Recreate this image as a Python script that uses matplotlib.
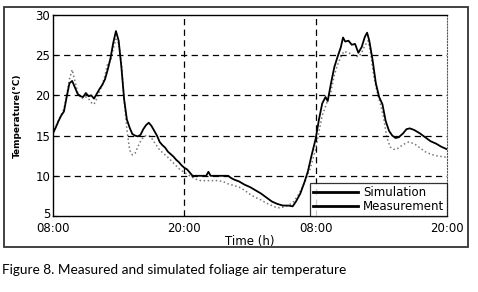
import matplotlib
matplotlib.use("Agg")
import matplotlib.pyplot as plt
import matplotlib.transforms as mtransforms
from matplotlib.lines import Line2D
from matplotlib.patches import Rectangle

# hours after 08:00 on day 1
t_meas = [0, 0.25, 0.5, 0.75, 1.0, 1.25, 1.5, 1.75, 2.0, 2.25, 2.5, 2.75, 3.0, 3.25, 3.5, 3.75,
          4.0, 4.25, 4.5, 4.75, 5.0, 5.25, 5.5, 5.75, 6.0, 6.25, 6.5, 6.75, 7.0, 7.25, 7.5, 7.75,
          8.0, 8.25, 8.5, 8.75, 9.0, 9.25, 9.5, 9.75, 10.0, 10.25, 10.5, 10.75, 11.0, 11.25, 11.5,
          11.75, 12.0, 12.25, 12.5, 12.75, 13, 14, 14.2, 14.4, 15, 16, 16.3, 16.6, 17.0, 17.5,
          18.0, 18.5, 19.0, 19.5, 20.0, 20.5, 21.0, 21.5, 21.9, 22.2, 22.6, 23.0, 23.3, 23.6,
          24.0, 24.3, 24.6, 24.9, 25.1, 25.4, 25.7, 26.0, 26.3, 26.5, 26.7, 27.0, 27.3, 27.6,
          27.9, 28.2, 28.5, 28.7, 28.9, 29.2, 29.5, 29.8, 30.1, 30.4, 30.7, 31.0, 31.3, 31.6,
          32.0, 32.3, 32.6, 33.0, 33.5, 34.0, 34.5, 35.0, 35.5, 36.0]
measured = [15.3, 16.0, 16.8, 17.5, 18.0, 19.8, 21.5, 21.8, 21.0, 20.2, 19.9, 19.8, 20.3, 19.9, 20.0, 19.6,
            20.2, 20.8, 21.3, 22.0, 23.2, 24.6, 26.5, 28.0, 26.8, 23.5, 19.5, 17.0, 16.0, 15.2, 15.0, 14.9,
            15.1, 15.8, 16.3, 16.6, 16.2, 15.6, 15.0, 14.2, 13.8, 13.5, 13.0, 12.7, 12.4, 12.0, 11.7,
            11.3, 11.0, 10.8, 10.4, 10.0, 10.0, 10.0, 10.5, 10.0, 10.0, 10.0, 9.7, 9.5, 9.3, 8.9,
            8.6, 8.2, 7.8, 7.3, 6.8, 6.5, 6.3, 6.3, 6.2, 6.8, 7.8, 9.3, 10.6, 12.4,
            14.6, 17.0, 19.0, 19.8, 19.3, 21.5, 23.5, 24.8, 26.0, 27.2, 26.7, 26.8, 26.3, 26.4,
            25.3, 26.0, 27.3, 27.8, 26.8, 24.4, 21.5, 19.8, 18.9, 16.8, 15.6, 15.0, 14.7, 14.8,
            15.3, 15.8, 15.9, 15.7, 15.3, 14.8, 14.3, 14.0, 13.6, 13.3]

t_sim = [0, 0.25, 0.5, 0.75, 1.0, 1.25, 1.5, 1.75, 2.0, 2.25, 2.5, 2.75, 3.0, 3.25, 3.5, 3.75,
         4.0, 4.25, 4.5, 4.75, 5.0, 5.25, 5.5, 5.75, 6.0, 6.25, 6.5, 6.75, 7.0, 7.25, 7.5, 7.75,
         8.0, 8.25, 8.5, 8.75, 9.0, 9.25, 9.5, 9.75, 10.0, 10.5, 11.0, 11.5, 12.0, 12.5, 13.0,
         13.5, 14, 15, 15.5, 16, 16.5, 17, 17.5, 18, 18.5, 19, 19.5, 20, 20.5, 21, 21.5, 22.0,
         22.5, 23.0, 23.5, 24.0, 24.3, 24.6, 25.0, 25.4, 25.7, 26.0, 26.3, 26.6, 26.9, 27.2,
         27.5, 27.9, 28.2, 28.5, 28.8, 29.0, 29.3, 29.6, 29.9, 30.2, 30.5, 30.8, 31.1, 31.4,
         31.7, 32.0, 32.5, 33.0, 33.5, 34.0, 34.5, 35.0, 35.5, 36.0]
simulated = [15.3, 16.1, 16.9, 17.6, 18.3, 20.0, 22.0, 23.2, 21.8, 20.4, 19.8, 19.6, 19.8, 19.6, 19.1, 18.9,
             19.6, 20.5, 21.3, 22.5, 24.0, 24.2, 25.8, 27.0, 26.5, 24.0, 19.5, 15.8, 13.2, 12.6, 12.8, 13.6,
             14.3, 14.8, 15.0, 15.0, 14.7, 14.2, 13.7, 13.2, 12.9, 12.3, 11.6, 10.9, 10.4, 10.0, 9.6,
             9.4, 9.4, 9.4, 9.3, 9.0, 8.8, 8.6, 8.2, 7.7, 7.3, 7.0, 6.6, 6.3, 6.0, 6.1, 6.3, 6.8,
             7.8, 9.2, 10.9, 13.3, 15.5, 17.5, 19.0, 20.5, 22.5, 23.8, 24.8, 25.5, 25.3, 25.2,
             25.0, 24.8, 25.3, 26.2, 26.8, 25.5, 22.5, 20.5, 19.0, 17.3, 14.8, 13.6, 13.3, 13.3,
             13.6, 13.9, 14.2, 14.0, 13.5, 13.0, 12.7, 12.5, 12.4, 12.3]

xticks = [0, 12, 24, 36]
xticklabels = ["08:00", "20:00", "08:00", "20:00"]
yticks = [5, 10, 15, 20, 25, 30]

fig = plt.figure(figsize=(4.78, 2.92), dpi=100)
fig.patches.append(Rectangle((4 / 478, 45 / 292), 464 / 478, 240 / 292, transform=fig.transFigure,
                             fill=False, edgecolor="#333333", linewidth=1.3))
ax = fig.add_axes([53 / 478, 76 / 292, 394 / 478, 201 / 292])

ax.plot(t_sim, simulated, color="#777777", linestyle=":", linewidth=1.1)
ax.plot(t_meas, measured, color="black", linewidth=1.3)

ax.set_xlim(0, 36)
ax.set_ylim(5, 30)
ax.set_xticks(xticks)
ax.set_xticklabels(xticklabels)
ax.set_yticks(yticks)
ax.tick_params(direction="in", length=3, width=0.8, labelsize=8.5, pad=2)
ax.tick_params(axis="x", length=0, pad=4)

# nudge the lowest y label up a little so it sits just above "08:00"
lab5 = ax.get_yticklabels()[0]
lab5.set_transform(lab5.get_transform() + mtransforms.ScaledTranslation(0, 2.5 / 72, fig.dpi_scale_trans))

for y in [10, 15, 20, 25]:
    ax.axhline(y, color="black", linestyle=(0, (5, 3.5)), linewidth=0.9)
for x in [12, 24]:
    ax.axvline(x, color="black", linestyle=(0, (5, 3.5)), linewidth=0.9)

for s in ["left", "bottom", "top"]:
    ax.spines[s].set_linewidth(1.0)
ax.spines["right"].set_linestyle(":")
ax.spines["right"].set_color("#555555")

ax.set_xlabel("Time (h)", fontsize=8.5, labelpad=0)
ax.set_ylabel("Temperature(\u00b0C)", fontsize=6.5, fontweight="bold", labelpad=10)

handles = [Line2D([], [], color="black", linewidth=2.0),
           Line2D([], [], color="black", linewidth=2.0)]
leg = ax.legend(handles, ["Simulation", "Measurement"], loc="lower right", fontsize=8.5,
                frameon=True, fancybox=False, borderaxespad=0, handlelength=3.8,
                borderpad=0.25, labelspacing=0.1, handletextpad=0.4)
leg.get_frame().set_edgecolor("black")
leg.get_frame().set_linewidth(0.9)

fig.text(2 / 478, 22 / 292, "Figure 8. Measured and simulated foliage air temperature",
         fontsize=9.8, family="Lato", va="center", ha="left")

fig.savefig("out.png", dpi=100)
